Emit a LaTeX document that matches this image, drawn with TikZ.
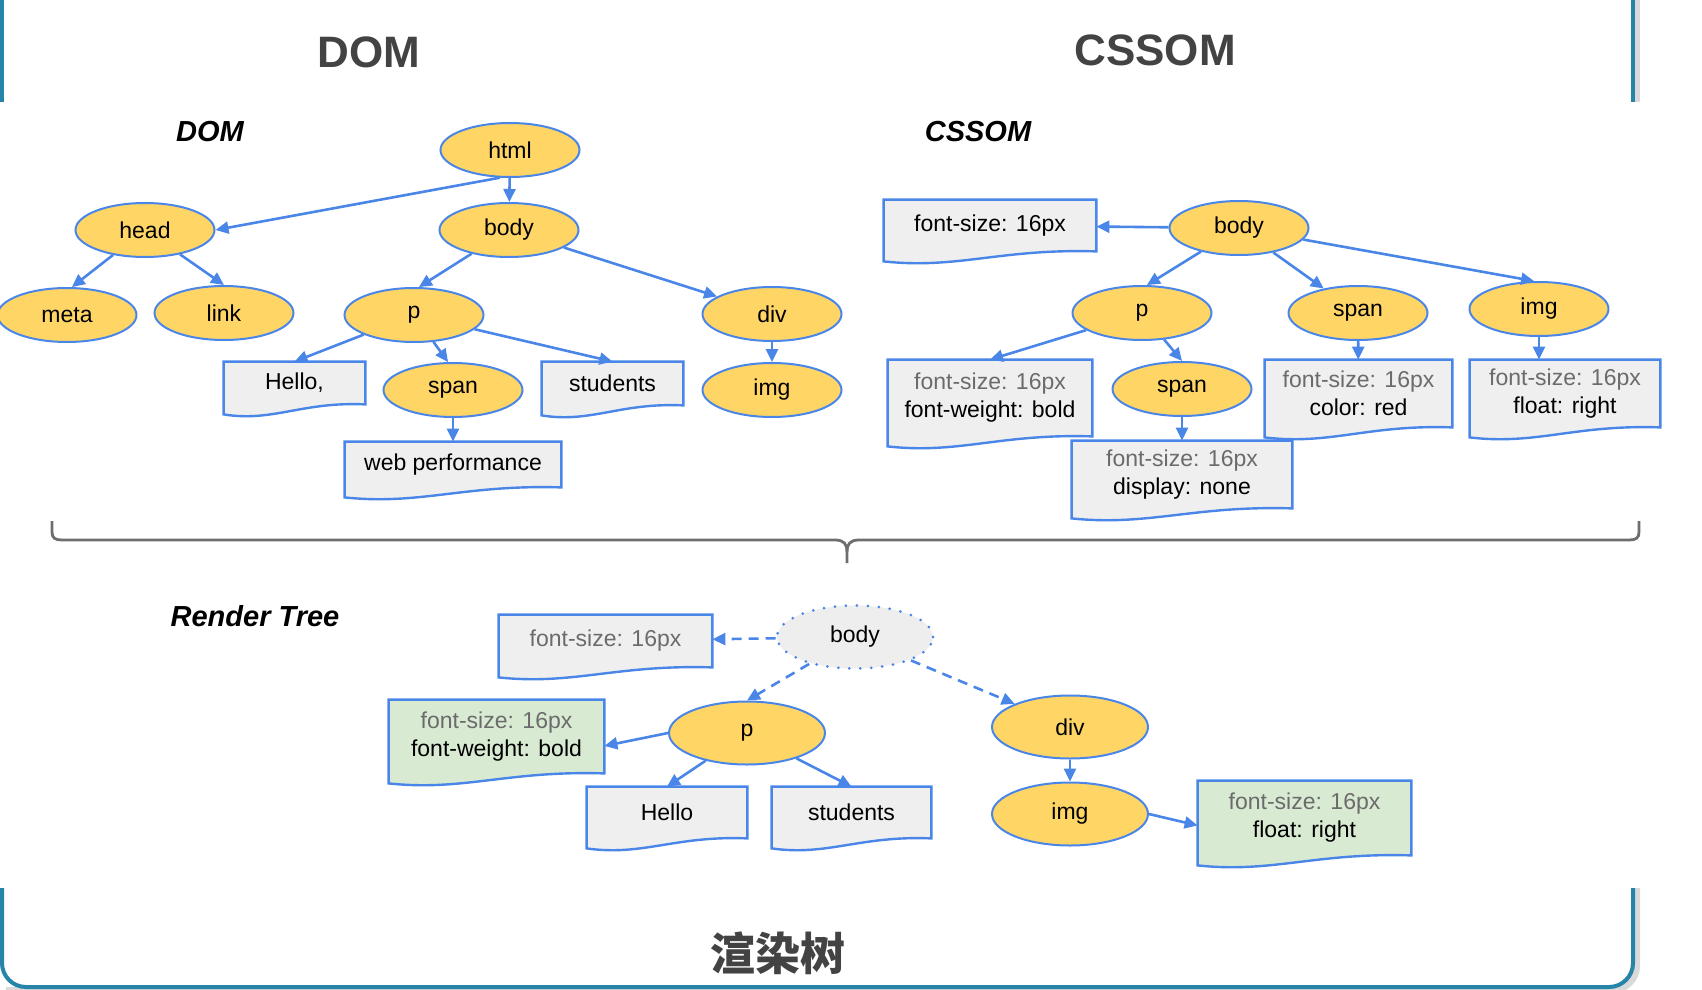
\documentclass[tikz,border=0pt]{standalone}
\usepackage{fontspec}
\setmainfont{Liberation Sans}
\newfontfamily\cjkfont{Noto Sans CJK SC}
\usetikzlibrary{shapes.geometric,arrows.meta,calc,backgrounds}
\definecolor{nodeblue}{RGB}{74,134,232}
\definecolor{nodeyellow}{RGB}{255,214,102}
\definecolor{docgray}{RGB}{239,239,239}
\definecolor{docgreen}{RGB}{217,234,211}
\definecolor{ghostgray}{RGB}{238,238,238}
\definecolor{fsgray}{RGB}{107,107,107}
\definecolor{titlegray}{RGB}{67,67,67}
\definecolor{frameblue}{RGB}{37,132,168}
\definecolor{bracegray}{RGB}{110,110,110}
\newcommand{\nodefont}{\fontsize{11.5}{14}\selectfont}
\newcommand{\fsline}{\textcolor{fsgray}{font-size: 16px}}
\tikzset{
  elem/.style={ellipse,draw=nodeblue,fill=nodeyellow,line width=1pt,minimum width=69.5pt,minimum height=27pt,inner sep=0pt,font=\nodefont},
  relem/.style={elem,minimum width=78pt,minimum height=31.5pt},
  ghost/.style={relem,fill=ghostgray,dash pattern=on 0pt off 5.5pt,line cap=round,line width=1.5pt},
  doc/.style 2 args={rectangle,inner sep=0pt,align=center,font=\nodefont,minimum width=#1,minimum height=#2},
  docline/.style={draw=nodeblue,line width=1.2pt},
  arr/.style={-{Triangle[length=6.5pt,width=6pt]},draw=nodeblue,line width=1.3pt},
  darr/.style={arr,dash pattern=on 5pt off 3.5pt},
  headtext/.style={font=\fontsize{22}{26}\selectfont\bfseries,text=titlegray},
  seclabel/.style={font=\fontsize{14.5}{17}\selectfont\bfseries\itshape},
  cjktitle/.style={font=\fontsize{22.5}{26}\selectfont\cjkfont\bfseries,text=titlegray},
  frameline/.style={draw=frameblue,line width=2pt},
  frameshadow/.style={draw=black!15,line width=3pt},
  brace/.style={draw=bracegray,line width=1.4pt}
}
\begin{document}
\begin{tikzpicture}[x=0.5pt,y=-0.5pt]
\useasboundingbox (0,0) rectangle (1702,990);
\node[headtext] (domtitle) at (369,52) {DOM};
\node[headtext] (cssomtitle) at (1155,50) {CSSOM};
\node[seclabel] (domlabel) at (210,132) {DOM};
\node[seclabel] (cssomlabel) at (978,132) {CSSOM};
\node[seclabel] (rtlabel) at (255,616) {Render Tree};
\node[cjktitle] (rttitle) at (778,953) {渲染树};
% DOM
\node[elem] (html) at (510,150) {html};
\node[elem] (head) at (145,230) {head};
\node[elem] (body) at (509,230) {body};
\node[elem] (meta) at (67,315) {meta};
\node[elem] (link) at (224,313) {link};
\node[elem] (p) at (414,315) {p};
\node[elem] (div) at (772,314) {div};
\node[elem] (span) at (453,390) {span};
\node[elem] (img) at (772,390) {img};
\node[doc={70.5pt}{21pt}] (hello) at (294.5,383) {Hello,};
\node[doc={70.5pt}{21.5pt}] (students) at (612.5,383.5) {students};
\node[doc={108pt}{22.5pt}] (webperf) at (453,464.5) {web performance};
% CSSOM
\node[doc={106pt}{25.5pt}] (cfont) at (990,225.5) {font-size: 16px};
\node[elem] (cbody) at (1239,228) {body};
\node[elem] (cp) at (1142,313) {p};
\node[elem] (cspan) at (1358,313) {span};
\node[elem] (cimg) at (1539,309) {img};
\node[elem] (cspanb) at (1182,389) {span};
\node[doc={102pt}{38pt}] (cpstyle) at (990,398) {\fsline\\font-weight: bold};
\node[doc={110pt}{33.5pt}] (cspanbstyle) at (1182,474.5) {\fsline\\display: none};
\node[doc={93.5pt}{33.5pt}] (cspanstyle) at (1358.5,393.5) {\fsline\\color: red};
\node[doc={95pt}{33.5pt}] (cimgstyle) at (1565,393.5) {\fsline\\float: right};
% render tree
\node[doc={106.5pt}{26pt}] (rfont) at (605.5,641) {\fsline};
\node[ghost] (rbody) at (855,637) {body};
\node[relem] (rp) at (747,733) {p};
\node[relem] (rdiv) at (1070,727) {div};
\node[relem] (rimg) at (1070,814) {img};
\node[doc={107.5pt}{36.5pt}] (rpstyle) at (496.5,736.5) {\fsline\\font-weight: bold};
\node[doc={80pt}{25.5pt}] (rhello) at (667,812.5) {Hello};
\node[doc={79.5pt}{25.5pt}] (rstudents) at (851.5,812.5) {students};
\node[doc={106.5pt}{37pt}] (rimgstyle) at (1304.5,818) {\fsline\\float: right};

\begin{scope}[on background layer]
  \draw[frameshadow] (1637,-5) -- (1637,102);
  \draw[frameshadow,rounded corners=12pt] (6,990) -- (1637,990) -- (1637,888);
  \draw[frameline] (2,-5) -- (2,102);
  \draw[frameline] (1633,-5) -- (1633,102);
  \draw[frameline,rounded corners=12pt] (2,888) -- (2,987) -- (1633,987) -- (1633,888);
  \foreach \d/\c in {hello/docgray,students/docgray,webperf/docgray,cfont/docgray,cpstyle/docgray,cspanbstyle/docgray,cspanstyle/docgray,cimgstyle/docgray,rfont/docgray,rpstyle/docgreen,rhello/docgray,rstudents/docgray,rimgstyle/docgreen}
    \draw[docline,fill=\c] (\d.north west) -- (\d.north east) -- (\d.south east)
      .. controls ($(\d.south east)!0.45!(\d.south west)+(0pt,1.5pt)$) and ($(\d.south east)!0.65!(\d.south west)+(0pt,-9pt)$) .. ($(\d.south west)+(0pt,-5pt)$) -- cycle;
\end{scope}

\draw[arr] (html.250) -- (head.east);
\draw[arr] (html) -- (body);
\draw[arr] (head) -- (meta.80);
\draw[arr] (head) -- (link.north);
\draw[arr] (body) -- (p.80);
\draw[arr] (body) -- (div);
\draw[arr] (p) -- (hello.north);
\draw[arr] (p) -- (span.100);
\draw[arr] (p) -- (students.north);
\draw[arr] (div) -- (img);
\draw[arr] (span) -- (webperf);

\draw[arr] (cbody) -- (cfont);
\draw[arr] (cbody) -- (cp.80);
\draw[arr] (cbody) -- (cspan);
\draw[arr] (cbody) -- (cimg.100);
\draw[arr] (cp) -- (cpstyle.north);
\draw[arr] (cp) -- (cspanb.north);
\draw[arr] (cspan) -- (cspanstyle);
\draw[arr] (cimg) -- (cimg |- cimgstyle.north);
\draw[arr] (cspanb) -- (cspanbstyle);

\draw[brace] (52,521) -- (52,532) .. controls (52,538) and (55,540) .. (62,540) -- (835,540) .. controls (844,540) and (847,544) .. (847,552) -- (847,563);
\draw[brace] (1639,521) -- (1639,532) .. controls (1639,538) and (1636,540) .. (1629,540) -- (859,540) .. controls (850,540) and (847,544) .. (847,552);

\draw[darr] (rbody) -- (rfont);
\draw[darr] (rbody) -- (rp.north);
\draw[darr] (rbody) -- (rdiv);
\draw[arr] (rp.west) -- (rpstyle.-5);
\draw[arr] (rp) -- (rhello.north);
\draw[arr] (rp) -- (rstudents.north);
\draw[arr] (rdiv) -- (rimg);
\draw[arr] (rimg.east) -- (rimgstyle.184);
\end{tikzpicture}
\end{document}
